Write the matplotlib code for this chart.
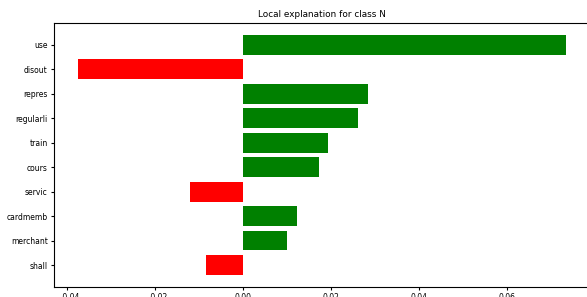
import numpy as np
import matplotlib
matplotlib.use('Agg')
import matplotlib.pyplot as plt

# Feature weights for class N (top feature first)
features = ['use', 'disout', 'repres', 'regularli', 'train', 'cours',
            'servic', 'cardmemb', 'merchant', 'shall']
weights = [0.0732, -0.0375, 0.0284, 0.0261, 0.0193, 0.0172,
           -0.0122, 0.0122, 0.0100, -0.0085]

vals = weights[::-1]
names = features[::-1]
colors = ['green' if v > 0 else 'red' for v in vals]
pos = np.arange(len(vals))

fig = plt.figure(figsize=(5.87, 2.97), dpi=100)
ax = fig.add_axes([0.092, 0.0337, 0.913, 0.889])
ax.barh(pos, vals, align='center', color=colors, height=0.8)
ax.set_yticks(pos)
ax.set_yticklabels(names)
ax.set_title('Local explanation for class N', fontsize=6.4, pad=4)
ax.tick_params(labelsize=5.5, length=2.5, width=0.8, pad=2)
for s in ax.spines.values():
    s.set_linewidth(0.8)

fig.savefig('out.png', dpi=100)
